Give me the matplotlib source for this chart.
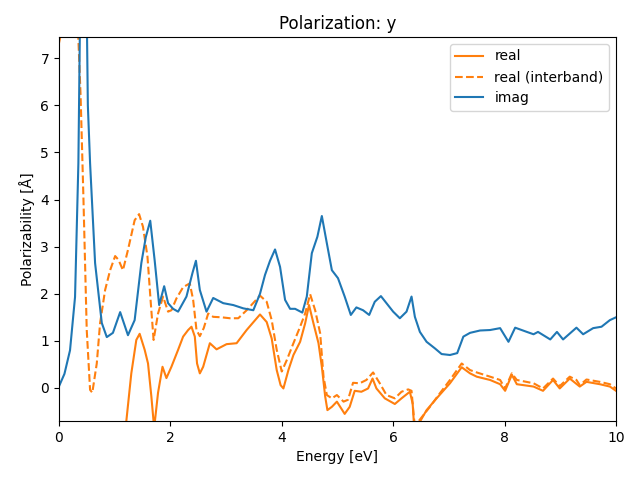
import matplotlib
matplotlib.use('Agg')
import matplotlib.pyplot as plt

# real part (with Drude term) - diverges below the axis at low energy
real_e = [0.05, 0.3, 0.6, 0.9, 1.1, 1.21, 1.30, 1.39, 1.45, 1.54, 1.60, 1.66, 1.71, 1.78,
          1.86, 1.93, 2.02, 2.14, 2.23, 2.32, 2.38, 2.44, 2.48, 2.53, 2.59, 2.71, 2.83,
          3.01, 3.19, 3.37, 3.61, 3.73, 3.82, 3.91, 3.98, 4.03, 4.12, 4.21, 4.33, 4.42,
          4.49, 4.57, 4.66, 4.72, 4.78, 4.82, 4.90, 4.99, 5.13, 5.22, 5.31, 5.43, 5.55,
          5.63, 5.70, 5.85, 6.03, 6.15, 6.30, 6.35, 6.38, 6.44, 6.60, 6.78, 7.02, 7.23,
          7.38, 7.50, 7.74, 7.92, 8.01, 8.13, 8.22, 8.52, 8.69, 8.87, 8.99, 9.17, 9.35,
          9.47, 9.71, 9.89, 10.0]
real_v = [-60, -12, -4, -2, -1.2, -0.71, 0.31, 1.02, 1.15, 0.81, 0.52, -0.18, -0.85, -0.1,
          0.45, 0.21, 0.45, 0.81, 1.09, 1.23, 1.30, 1.09, 0.52, 0.31, 0.45, 0.95, 0.82,
          0.93, 0.95, 1.23, 1.56, 1.40, 1.05, 0.38, 0.06, -0.01, 0.38, 0.70, 0.98, 1.37,
          1.76, 1.37, 0.95, 0.45, -0.18, -0.47, -0.40, -0.29, -0.55, -0.40, -0.06, -0.08, -0.01,
          0.20, -0.01, -0.22, -0.34, -0.22, -0.08, -0.33, -0.9, -0.8, -0.47, -0.22, 0.10, 0.44,
          0.31, 0.24, 0.17, 0.08, -0.06, 0.28, 0.08, 0.03, -0.06, 0.17, -0.01, 0.20, 0.03,
          0.13, 0.08, 0.03, -0.06]

# real part, interband only
inter_e = [0.0, 0.05, 0.15, 0.25, 0.33, 0.39, 0.44, 0.50, 0.56, 0.60, 0.68, 0.74, 0.83,
           0.92, 1.01, 1.07, 1.15, 1.24, 1.36, 1.44, 1.51, 1.59, 1.65, 1.70, 1.78, 1.87,
           1.96, 2.02, 2.11, 2.23, 2.35, 2.41, 2.47, 2.53, 2.60, 2.68, 2.77, 2.92, 3.07,
           3.22, 3.37, 3.61, 3.73, 3.82, 3.91, 4.00, 4.09, 4.21, 4.33, 4.42, 4.51, 4.60,
           4.69, 4.75, 4.81, 4.90, 4.99, 5.11, 5.19, 5.28, 5.40, 5.52, 5.64, 5.76, 5.88,
           6.03, 6.15, 6.27, 6.33, 6.37, 6.40, 6.46, 6.66, 6.84, 7.02, 7.23, 7.38, 7.50,
           7.74, 7.92, 8.01, 8.13, 8.22, 8.52, 8.69, 8.87, 8.99, 9.17, 9.29, 9.35, 9.47,
           9.71, 9.89, 10.0]
inter_v = [7.31, 7.6, 8.6, 8.8, 8.0, 6.2, 4.06, 1.23, -0.04, -0.10, 0.52, 1.38, 2.08,
           2.50, 2.80, 2.72, 2.50, 2.93, 3.56, 3.69, 3.42, 2.79, 1.8, 1.02, 1.58, 1.94,
           1.62, 1.65, 1.90, 2.14, 2.22, 1.87, 1.23, 1.10, 1.27, 1.58, 1.51, 1.50, 1.48,
           1.48, 1.65, 1.96, 1.83, 1.44, 0.81, 0.35, 0.59, 0.95, 1.30, 1.58, 1.99, 1.65,
           1.16, 0.24, -0.15, -0.22, -0.15, -0.29, -0.25, 0.11, 0.10, 0.17, 0.33, 0.10, -0.15,
           -0.22, -0.08, -0.03, -0.06, -0.6, -0.9, -0.7, -0.40, -0.11, 0.17, 0.52, 0.38, 0.33,
           0.24, 0.17, -0.01, 0.31, 0.17, 0.10, -0.01, 0.20, 0.04, 0.24, 0.17, 0.06, 0.18,
           0.13, 0.08, -0.01]

# imaginary part
imag_e = [0.0, 0.1, 0.2, 0.29, 0.35, 0.40, 0.44, 0.48, 0.52, 0.56, 0.65, 0.77, 0.86,
          0.97, 1.10, 1.24, 1.36, 1.48, 1.56, 1.64, 1.72, 1.80, 1.89, 1.96, 2.05, 2.14,
          2.29, 2.40, 2.46, 2.53, 2.65, 2.77, 2.95, 3.13, 3.31, 3.49, 3.61, 3.70, 3.79,
          3.88, 3.97, 4.06, 4.15, 4.24, 4.37, 4.45, 4.54, 4.64, 4.72, 4.81, 4.90, 5.01,
          5.13, 5.24, 5.34, 5.46, 5.57, 5.67, 5.78, 5.88, 6.00, 6.12, 6.24, 6.33, 6.39,
          6.48, 6.60, 6.75, 6.87, 7.02, 7.15, 7.26, 7.38, 7.56, 7.74, 7.92, 8.07, 8.19,
          8.40, 8.52, 8.60, 8.82, 8.94, 9.05, 9.29, 9.41, 9.59, 9.74, 9.89, 10.0]
imag_v = [0.03, 0.3, 0.8, 1.93, 4.77, 10, 14, 10, 6.0, 4.77, 2.65, 1.38, 1.08,
          1.17, 1.61, 1.12, 1.44, 2.65, 3.2, 3.55, 2.7, 1.76, 2.16, 1.80, 1.68, 1.62,
          1.94, 2.45, 2.70, 2.08, 1.62, 1.91, 1.80, 1.76, 1.69, 1.65, 2.0, 2.40, 2.70,
          2.94, 2.57, 1.87, 1.68, 1.68, 1.60, 1.94, 2.86, 3.21, 3.65, 3.07, 2.50, 2.33,
          1.94, 1.55, 1.71, 1.65, 1.55, 1.83, 1.95, 1.80, 1.62, 1.48, 1.62, 1.94, 1.51,
          1.19, 0.98, 0.84, 0.72, 0.70, 0.74, 1.09, 1.17, 1.22, 1.23, 1.27, 0.98, 1.28,
          1.19, 1.14, 1.19, 1.03, 1.19, 1.03, 1.28, 1.14, 1.27, 1.30, 1.44, 1.50]

fig, ax = plt.subplots(figsize=(6.4, 4.8), dpi=100)
ax.plot(real_e, real_v, color='C1', label='real')
ax.plot(inter_e, inter_v, color='C1', ls='--', label='real (interband)')
ax.plot(imag_e, imag_v, color='C0', label='imag')

ax.set_xlim(0, 10)
ax.set_ylim(-0.7, 7.45)
ax.set_title('Polarization: y')
ax.set_xlabel('Energy [eV]')
ax.set_ylabel('Polarizability [Å]')
ax.legend(loc='upper right')
fig.subplots_adjust(left=0.092, right=0.9625, top=0.923, bottom=0.123)
fig.savefig('out.png')
